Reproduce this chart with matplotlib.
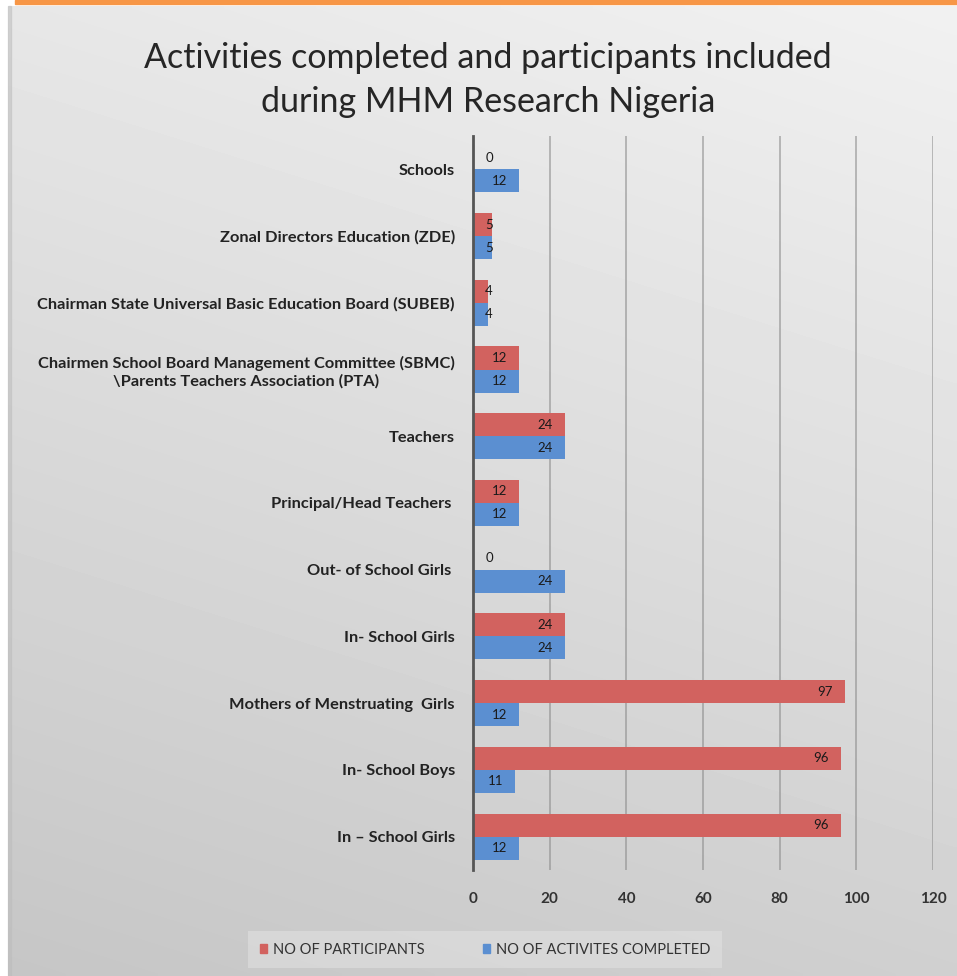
import numpy as np
import matplotlib
matplotlib.use("Agg")
import matplotlib.pyplot as plt
from matplotlib.patches import Rectangle, Patch

plt.rcParams['font.family'] = ['Lato', 'DejaVu Sans']

# categories, listed top to bottom
categories = [
    "Schools",
    "Zonal Directors Education (ZDE)",
    "Chairman State Universal Basic Education Board (SUBEB)",
    "Chairmen School Board Management Committee (SBMC)\n\\Parents Teachers Association (PTA)",
    "Teachers",
    "Principal/Head Teachers ",
    "Out- of School Girls ",
    "In- School Girls",
    "Mothers of Menstruating  Girls",
    "In- School Boys",
    "In \u2013 School Girls",
]
participants = [0, 5, 4, 12, 24, 12, 0, 24, 97, 96, 96]
activities = [12, 5, 4, 12, 24, 12, 24, 24, 12, 11, 12]
xticks = [0, 20, 40, 60, 80, 100, 120]

red = '#d2625f'
blue = '#5b8fd1'
W, H = 957, 976

fig = plt.figure(figsize=(W / 100, H / 100), dpi=100)

# slide background: gray gradient panel with orange rule at the top
bg = fig.add_axes([0, 0, 1, 1], zorder=-10)
bg.set_xlim(0, W)
bg.set_ylim(H, 0)
bg.axis('off')
gx, gy = np.meshgrid(np.linspace(0, 1, 200), np.linspace(0, 1, 200))
shade = 0.945 - 0.13 * gy - 0.04 * (1 - gx)
bg.imshow(shade, cmap='gray', vmin=0, vmax=1, extent=[8, W, H, 6],
          aspect='auto', interpolation='bilinear', zorder=1)
bg.add_patch(Rectangle((8, 6), 3, H, color='#bdbdbd', alpha=0.5, zorder=2))
bg.add_patch(Rectangle((15, 0), W - 15, 3.5, color='#f79646', zorder=2))

fig.text(0.51, 0.9406, "Activities completed and participants included",
         ha='center', va='center', fontsize=24.5, color='#262626')
fig.text(0.51, 0.8955, "during MHM Research Nigeria",
         ha='center', va='center', fontsize=24.5, color='#262626')

ax = fig.add_axes([0.4943, 0.1086, 0.4807, 0.7521])
ax.set_facecolor('none')
y = np.arange(len(categories))
h = 0.345
ax.barh(y - h / 2, participants, height=h, color=red, zorder=3)
ax.barh(y + h / 2, activities, height=h, color=blue, zorder=3)

ax.set_xlim(0, 120)
ax.set_ylim(-0.5, len(categories) - 0.5)
ax.invert_yaxis()
ax.set_xticks(xticks)
ax.set_yticks(y)
ax.set_yticklabels(categories)
for lab in ax.get_yticklabels():
    lab.set_multialignment('center')
ax.tick_params(axis='y', length=0, pad=13, labelsize=11.8, labelcolor='#222222')
ax.tick_params(axis='x', length=0, pad=16, labelsize=11, labelcolor='#333333')
for lab in ax.get_xticklabels() + ax.get_yticklabels():
    lab.set_fontweight('bold')
ax.grid(axis='x', color='#8a8a8a', lw=1.1, alpha=0.7, zorder=0)
for s in ['top', 'right', 'bottom']:
    ax.spines[s].set_visible(False)
ax.spines['left'].set_color('#555555')
ax.spines['left'].set_linewidth(2)
ax.spines['left'].set_zorder(5)

# value labels: inside end for longer bars, near the axis for short ones
for vals, off in [(participants, -h / 2), (activities, h / 2)]:
    for yi, v in zip(y, vals):
        if v >= 10:
            ax.annotate(str(v), (v, yi + off), xytext=(-12, 0),
                        textcoords='offset pixels', ha='right', va='center',
                        fontsize=9.5, color='#1a1a1a', zorder=6)
        else:
            ax.annotate(str(v), (0, yi + off), xytext=(16, 0),
                        textcoords='offset pixels', ha='center', va='center',
                        fontsize=9.5, color='#1a1a1a', zorder=6)

handles = [Patch(color=red, label='NO OF PARTICIPANTS'),
           Patch(color=blue, label='NO OF ACTIVITES COMPLETED')]
leg = fig.legend(handles=handles, loc='center', bbox_to_anchor=(0.507, 0.027),
                 ncol=2, frameon=True, fontsize=10.5, handlelength=0.5,
                 handleheight=0.5, handletextpad=0.4, columnspacing=4.0,
                 borderpad=0.8, fancybox=False)
leg.get_frame().set_facecolor('#e2e2e2')
leg.get_frame().set_alpha(0.55)
leg.get_frame().set_edgecolor('none')
for t in leg.get_texts():
    t.set_color('#333333')

fig.savefig('out.png', dpi=100)
